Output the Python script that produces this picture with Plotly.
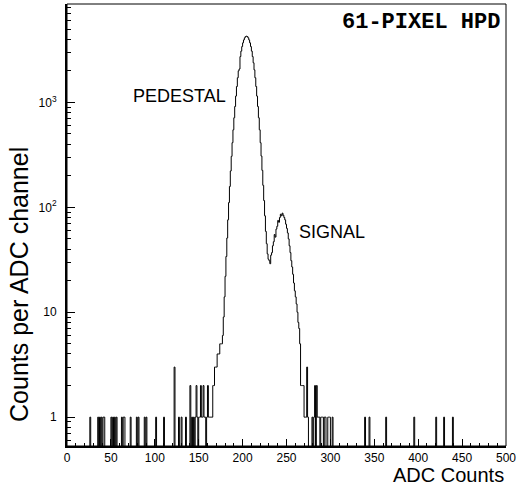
import numpy as np
import plotly.graph_objects as go

# ---- data ----
n_channels = 500
# main region counts, channel 140 .. 302
main_start = 140
main_counts = [
    2, 0, 1, 0, 1, 0, 1, 2, 1, 0,          # 140-149
    1, 1, 2, 1, 1, 2, 1, 1, 0, 1,          # 150-159
    2, 1, 1, 1, 1, 1, 2, 2, 3, 3,          # 160-169
    3, 4, 4, 4, 5, 5, 5, 6, 9, 14,         # 170-179
    22, 34, 51, 76, 111, 158, 222, 306, 413, 548,      # 180-189
    714, 915, 1149, 1418, 1717, 2000, 2080, 2736, 3081, 3406,  # 190-199
    3698, 3942, 4127, 4241, 4280, 4241, 4127, 3942, 3698, 3406,  # 200-209
    3081, 2736, 2386, 2042, 1717, 1418, 1149, 915, 714, 548,   # 210-219
    413, 308, 225, 162, 116, 83, 59, 45, 36, 32,       # 220-229
    31, 29, 35, 37, 43, 47, 55, 52, 62, 66,            # 230-239
    75, 72, 80, 86, 83, 88, 84, 80, 76, 69,            # 240-249
    63, 57, 50, 43, 37, 31, 27, 23, 19, 16,            # 250-259
    14, 12, 10, 8, 7, 5, 2, 2, 2, 2,                   # 260-269
    1, 1, 1, 3, 1, 0, 0, 0, 0, 1,                      # 270-279
    0, 1, 2, 0, 2, 1, 1, 1, 0, 1,                      # 280-289
    1, 1, 0, 1, 1, 0, 0, 1, 1, 1,                      # 290-299
    0, 0, 1,                                           # 300-302
]
# isolated noise hits outside the main region: channel -> count
noise_channels = [26, 35, 37, 39, 41, 42, 50, 52, 54, 56, 62, 64, 65, 72,
                  79, 81, 88, 90, 101, 110, 122, 127, 130, 135,
                  339, 344, 363, 395, 420, 429, 439]
noise_counts = [1, 1, 1, 1, 1, 1, 1, 1, 1, 1, 1, 1, 1, 1,
                1, 1, 1, 1, 1, 1, 3, 1, 1, 1,
                1, 1, 1, 1, 1, 1, 1]

x_ticks = [0, 50, 100, 150, 200, 250, 300, 350, 400, 450, 500]
y_tickvals = [1, 10, 100, 1000]
y_ticktext = ["1", "10", "10<sup>2</sup>", "10<sup>3</sup>"]

# ---- build histogram ----
counts = np.zeros(n_channels)
counts[main_start:main_start + len(main_counts)] = main_counts
for c, v in zip(noise_channels, noise_counts):
    counts[c] = v

floor = 1e-3  # empty bins drawn below the axis floor (as ROOT does on log scale)
plot_vals = np.where(counts > 0, counts, floor)
edges = np.arange(n_channels + 1)
ys = np.append(plot_vals, plot_vals[-1])

fig = go.Figure()
fig.add_trace(go.Scatter(
    x=edges, y=ys, mode="lines", line_shape="hv",
    line=dict(color="black", width=1), hoverinfo="skip", showlegend=False,
))

minor_y = []
for d in [0.1, 1, 10, 100, 1000]:
    for k in range(2, 10):
        minor_y.append(k * d)

font_fam = "Liberation Sans, Arial, sans-serif"
fig.update_layout(
    width=520, height=491,
    margin=dict(l=67, r=11, t=4, b=45),
    paper_bgcolor="white", plot_bgcolor="white",
    font=dict(family=font_fam, color="black", size=12),
    xaxis=dict(
        range=[0, 500], tickmode="array", tickvals=x_ticks,
        ticks="inside", ticklen=7, tickcolor="black", tickwidth=1,
        showgrid=False, zeroline=False,
        showline=True, linecolor="black", linewidth=2,
        minor=dict(dtick=10, tick0=0, ticks="inside", ticklen=3,
                   tickcolor="black", showgrid=False),
        tickfont=dict(size=12, family=font_fam),
    ),
    yaxis=dict(
        type="log", range=[-0.275, 3.938],
        tickmode="array", tickvals=y_tickvals, ticktext=y_ticktext,
        ticks="inside", ticklen=8, tickcolor="black", tickwidth=1,
        showgrid=False, zeroline=False,
        showline=True, linecolor="black", linewidth=2,
        minor=dict(tickmode="array", tickvals=minor_y, ticks="inside",
                   ticklen=4, tickcolor="black", showgrid=False),
        tickfont=dict(size=12, family=font_fam),
        ticklabelstandoff=6,
    ),
    shapes=[dict(type="rect", xref="paper", yref="paper", x0=0, y0=0, x1=1, y1=1,
                 line=dict(color="black", width=1), layer="above")],
)

fig.add_annotation(text="<b>61-PIXEL HPD</b>", xref="paper", yref="paper",
                   x=0.9915, y=0.958, xanchor="right", yanchor="middle",
                   showarrow=False,
                   font=dict(family="Liberation Mono, Courier New, monospace", size=22))
fig.add_annotation(text="PEDESTAL", xref="x", yref="y",
                   x=183, y=np.log10(1140), xanchor="right", yanchor="middle",
                   showarrow=False, font=dict(family=font_fam, size=18))
fig.add_annotation(text="SIGNAL", xref="x", yref="y",
                   x=262, y=np.log10(58), xanchor="left", yanchor="middle",
                   showarrow=False, font=dict(family=font_fam, size=18))
fig.add_annotation(text="ADC Counts", xref="paper", yref="paper",
                   x=1.0, y=-0.036, xanchor="right", yanchor="top",
                   showarrow=False, font=dict(family=font_fam, size=20))
fig.add_annotation(text="Counts per ADC channel", xref="paper", yref="paper",
                   x=-0.111, y=0.365, xanchor="center", yanchor="middle",
                   textangle=-90, showarrow=False,
                   font=dict(family=font_fam, size=25))

fig.write_html("out.html", config={"displayModeBar": False},
               post_script="document.body.style.margin='0';document.body.style.padding='0';")
